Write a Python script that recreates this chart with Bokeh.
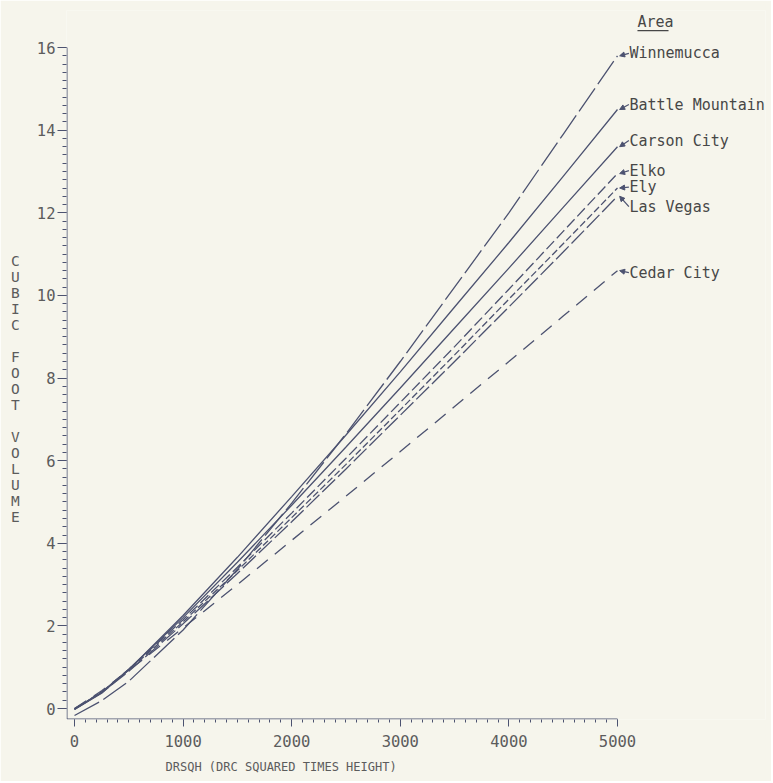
from bokeh.plotting import figure
from bokeh.models import Range1d, FixedTicker, Label, Arrow, NormalHead, Title
from bokeh.embed import file_html
from bokeh.resources import INLINE

# ---- data ----
drsqh = [0, 250, 500, 1000, 1500, 2000, 2500, 3000, 3500, 4000, 4500, 5000]
winnemucca = [-0.17, 0.19, 0.66, 1.90, 3.37, 4.97, 6.65, 8.40, 10.20, 12.00, 13.90, 15.80]
battle_mountain = [-0.02, 0.37, 0.94, 2.25, 3.66, 5.13, 6.62, 8.15, 9.72, 11.28, 12.88, 14.50]
carson_city = [-0.02, 0.39, 0.95, 2.20, 3.54, 4.92, 6.33, 7.76, 9.21, 10.66, 12.13, 13.60]
elko = [-0.01, 0.40, 0.95, 2.15, 3.42, 4.73, 6.06, 7.41, 8.76, 10.15, 11.55, 12.95]
ely = [-0.01, 0.40, 0.93, 2.10, 3.34, 4.62, 5.91, 7.23, 8.56, 9.91, 11.25, 12.60]
las_vegas = [-0.01, 0.38, 0.90, 2.05, 3.27, 4.52, 5.80, 7.10, 8.40, 9.72, 11.05, 12.40]
cedar_city = [0.00, 0.43, 0.92, 1.95, 3.00, 4.07, 5.14, 6.22, 7.31, 8.40, 9.50, 10.60]

areas = ["Winnemucca", "Battle Mountain", "Carson City", "Elko", "Ely", "Las Vegas", "Cedar City"]
series = [winnemucca, battle_mountain, carson_city, elko, ely, las_vegas, cedar_city]
x_ticks = [0, 1000, 2000, 3000, 4000, 5000]
y_ticks = [0, 2, 4, 6, 8, 10, 12, 14, 16]
x_title = "DRSQH (DRC SQUARED TIMES HEIGHT)"
y_title = "CUBIC FOOT VOLUME"
legend_title = "Area"

# ---- styles / layout ----
dashes = ["28 5", "solid", "solid", "11 4", "7 3", "18 4", "14 9"]
label_v = [15.86, 14.62, 13.75, 13.02, 12.62, 12.15, 10.55]
BG = "#f6f5ec"
INK = "#4c5270"
TXT = "#5c5c5c"
LAB = "#474747"
MONO = "DejaVu Sans Mono"

X0, X1 = -73.7, 6363.0
Y0, Y1 = -0.266, 16.897
AXIS_Y = -0.254
AXIS_X = -69.1

p = figure(width=771, height=781, output_backend="svg", toolbar_location=None,
           x_range=Range1d(X0, X1), y_range=Range1d(Y0, Y1),
           min_border_left=66, min_border_right=6, min_border_top=10,
           min_border_bottom=62)
p.background_fill_color = BG
p.border_fill_color = BG
p.outline_line_color = None
p.grid.visible = False

for ax in (p.xaxis[0], p.yaxis[0]):
    ax.axis_line_color = None
    ax.major_tick_line_color = INK
    ax.minor_tick_line_color = INK
    ax.major_tick_in = 0
    ax.minor_tick_in = 0
    ax.major_label_text_font = MONO
    ax.major_label_text_font_size = "15.5px"
    ax.major_label_text_color = TXT

p.xaxis.ticker = FixedTicker(ticks=x_ticks, minor_ticks=list(range(0, 5001, 100)))
p.xaxis.major_tick_out = 7
p.xaxis.minor_tick_out = 3
p.xaxis.major_label_standoff = 8

p.yaxis.ticker = FixedTicker(ticks=y_ticks, minor_ticks=[i * 0.2 for i in range(0, 81)])
p.yaxis.major_tick_out = 9
p.yaxis.minor_tick_out = 4
p.yaxis.major_label_standoff = 2

# stacked, upright y title
p.yaxis.axis_label = "\n\n\n" + "\n".join(y_title)
p.yaxis.axis_label_orientation = "horizontal"
p.yaxis.axis_label_text_font = MONO
p.yaxis.axis_label_text_font_size = "14.5px"
p.yaxis.axis_label_text_font_style = "normal"
p.yaxis.axis_label_text_line_height = 1.0
p.yaxis.axis_label_text_color = TXT
p.yaxis.axis_label_standoff = 14

# x title, left-aligned under the scale
p.add_layout(Title(text=x_title, align="left", offset=99, standoff=16,
                   text_font=MONO, text_font_size="12px", text_font_style="normal",
                   text_color=TXT), "below")

# axis lines (only as long as the scales)
p.line([AXIS_X, x_ticks[-1]], [AXIS_Y, AXIS_Y], line_color=INK, line_width=1)
p.line([AXIS_X, AXIS_X], [AXIS_Y, y_ticks[-1]], line_color=INK, line_width=1)

for vals, dash in zip(series, dashes):
    p.line(drsqh, vals, line_color=INK, line_width=1.3, line_dash=dash)

# labels with pointer arrows
for name, vals, lv in zip(areas, series, label_v):
    p.add_layout(Label(x=5110, y=lv, text=name, text_font=MONO,
                       text_font_size="15px", text_color=LAB,
                       text_baseline="middle", text_align="left"))
    p.add_layout(Arrow(end=NormalHead(size=5, line_color=INK, fill_color=INK),
                       x_start=5105, y_start=lv, x_end=5020, y_end=vals[-1],
                       line_color=INK, line_width=1.2))

p.add_layout(Label(x=5184, y=16.63, text=legend_title, text_font=MONO,
                   text_font_size="15px", text_color=LAB,
                   text_baseline="middle", text_align="left"))
p.add_layout(Arrow(end=None, x_start=5184, y_start=16.41, x_end=5470, y_end=16.41,
                   line_color=LAB, line_width=1.3))

open("out.html", "w").write(file_html(p, INLINE))
